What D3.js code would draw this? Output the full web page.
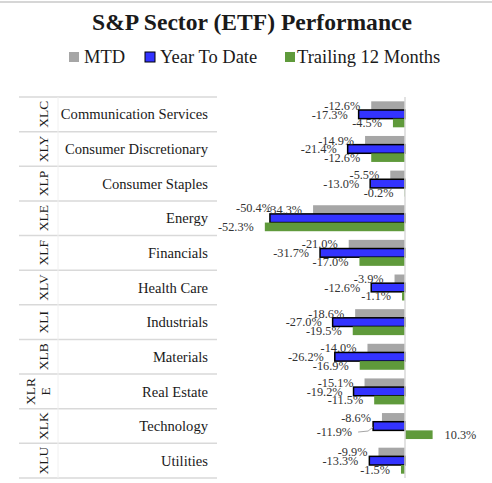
<!DOCTYPE html>
<html>
<head>
<meta charset="utf-8">
<script src="https://cdn.jsdelivr.net/npm/d3@7"></script>
<style>
  body { margin: 0; background: #fff; }
  text { font-family: "Liberation Serif", serif; }
</style>
</head>
<body>
<script>
var width = 492, height = 483;

var tickers = ["XLC", "XLY", "XLP", "XLE", "XLF", "XLV", "XLI", "XLB", "XLRE", "XLK", "XLU"];
var sectors = ["Communication Services", "Consumer Discretionary", "Consumer Staples", "Energy", "Financials",
               "Health Care", "Industrials", "Materials", "Real Estate", "Technology", "Utilities"];
var seriesNames = ["MTD", "Year To Date", "Trailing 12 Months"];
var mtd = [-12.6, -14.9, -5.5, -34.3, -21.0, -3.9, -18.6, -14.0, -15.1, -8.6, -9.9];
var ytd = [-17.3, -21.4, -13.0, -50.4, -31.7, -12.6, -27.0, -26.2, -19.2, -11.9, -13.3];
var t12 = [-4.5, -12.6, -0.2, -52.3, -17.0, -1.1, -19.5, -16.9, -11.5, 10.3, -1.5];

var colors = ["#a6a6a6", "#3333ff", "#5f9a3b"];
var seriesVals = [mtd, ytd, t12];

var rows = tickers.map(function (t, i) {
  return { ticker: t, sector: sectors[i], vals: seriesVals.map(function (s) { return s[i]; }) };
});

// plain hyphen for negatives, like the original
var fmt = d3.formatLocale({ decimal: ".", thousands: ",", grouping: [3], currency: ["$", ""], minus: "-" }).format(".1f");

var svg = d3.select("body").append("svg")
    .attr("width", width)
    .attr("height", height);

// chart border (only top edge visible)
svg.append("line")
    .attr("x1", 0).attr("x2", width).attr("y1", 2).attr("y2", 2)
    .attr("stroke", "#c8c8c8").attr("stroke-width", 1.5);

svg.append("text")
    .attr("x", 252).attr("y", 29.5)
    .attr("text-anchor", "middle")
    .style("font-size", "23.6px").style("font-weight", "bold")
    .attr("fill", "#1a1a1a")
    .text("S&P Sector (ETF) Performance");

// legend
var legendX = [69, 145, 285];
var legend = svg.selectAll(".legend")
    .data(seriesNames)
    .enter().append("g")
    .attr("class", "legend")
    .attr("transform", function (d, i) { return "translate(" + legendX[i] + ",57)"; });
legend.append("rect")
    .attr("x", 0).attr("y", -5).attr("width", 10).attr("height", 10)
    .attr("fill", function (d, i) { return colors[i]; })
    .attr("stroke", function (d, i) { return i == 1 ? "#000" : "none"; })
    .attr("stroke-width", 1);
legend.append("text")
    .attr("x", function (d, i) { return i == 2 ? 12 : 15; }).attr("y", 5.5)
    .style("font-size", "18.5px")
    .attr("fill", "#1a1a1a")
    .text(function (d) { return d; });

var xScale = d3.scaleLinear()
    .domain([-60, 20])
    .range([244.2, 458.6]);

var yScale = d3.scaleBand()
    .domain(tickers)
    .range([97, 478]);

var inner = d3.scaleBand()
    .domain([0, 1, 2])
    .range([0, yScale.bandwidth()])
    .paddingOuter(0.5);

var tableLeft = 19, tableRight = 217;

// table grid
svg.selectAll(".hline")
    .data(d3.range(tickers.length + 1))
    .enter().append("line")
    .attr("x1", tableLeft).attr("x2", tableRight)
    .attr("y1", function (i) { return 97 + i * yScale.step(); })
    .attr("y2", function (i) { return 97 + i * yScale.step(); })
    .attr("stroke", "#d9d9d9").attr("stroke-width", 1.5);

svg.append("line")
    .attr("x1", 58).attr("x2", 58).attr("y1", 97).attr("y2", 478)
    .attr("stroke", "#f0f0f0").attr("stroke-width", 1);

// ticker labels (rotated)
var tick = svg.selectAll(".ticker")
    .data(rows)
    .enter().append("text")
    .attr("class", "ticker")
    .attr("transform", function (d) {
      return "translate(43," + (yScale(d.ticker) + yScale.bandwidth() / 2) + ") rotate(-90)";
    })
    .attr("text-anchor", "middle")
    .style("font-size", "13.5px")
    .attr("fill", "#1a1a1a");
tick.each(function (d) {
  var t = d3.select(this);
  if (d.ticker.length > 3) {
    t.append("tspan").attr("x", 0).attr("dy", "-0.6em").text(d.ticker.slice(0, 3));
    t.append("tspan").attr("x", 0).attr("dy", "1.1em").text(d.ticker.slice(3));
  } else {
    t.append("tspan").attr("x", 0).attr("dy", "0.35em").text(d.ticker);
  }
});

svg.selectAll(".sector")
    .data(rows)
    .enter().append("text")
    .attr("x", 208)
    .attr("y", function (d) { return yScale(d.ticker) + yScale.bandwidth() / 2; })
    .attr("dy", "0.35em")
    .attr("text-anchor", "end")
    .style("font-size", "14.6px")
    .attr("fill", "#1a1a1a")
    .text(function (d) { return d.sector; });

// bars
var groups = svg.selectAll(".row")
    .data(rows)
    .enter().append("g")
    .attr("transform", function (d) { return "translate(0," + yScale(d.ticker) + ")"; });

groups.selectAll("rect")
    .data(function (d) { return d.vals.map(function (v, i) { return { v: v, s: i, t: d.ticker }; }); })
    .enter().append("rect")
    .attr("x", function (d) { return xScale(Math.min(0, d.v)); })
    .attr("y", function (d) { return inner(d.s); })
    .attr("width", function (d) { return Math.abs(xScale(d.v) - xScale(0)); })
    .attr("height", inner.bandwidth())
    .attr("fill", function (d) { return colors[d.s]; })
    .attr("stroke", function (d) { return d.s == 1 ? "#000" : "none"; })
    .attr("stroke-width", 1.5);

// zero line
svg.append("line")
    .attr("x1", xScale(0)).attr("x2", xScale(0)).attr("y1", 97).attr("y2", 478)
    .attr("stroke", "#d9d9d9").attr("stroke-width", 1.5);

// labels that were dragged away from their default spot in the original
var moved = { "XLE-1": [13, -11], "XLK-1": [-10, 6] };

groups.selectAll(".lbl")
    .data(function (d) { return d.vals.map(function (v, i) { return { v: v, s: i, t: d.ticker }; }); })
    .enter().append("text")
    .attr("class", "lbl")
    .attr("x", function (d) {
      var m = moved[d.t + "-" + d.s];
      return xScale(d.v) + (d.v < 0 ? -11 : 12) + (m ? m[0] : 0);
    })
    .attr("y", function (d) {
      var m = moved[d.t + "-" + d.s];
      return inner(d.s) + inner.bandwidth() / 2 + (m ? m[1] : 0);
    })
    .attr("dy", "0.35em")
    .attr("text-anchor", function (d) { return d.v < 0 ? "end" : "start"; })
    .style("font-size", "12.3px")
    .attr("fill", "#333")
    .text(function (d) { return fmt(d.v) + "%"; });

// leader line for the technology YTD label
var tk = rows[tickers.indexOf("XLK")];
svg.append("path")
    .attr("d", function () {
      var y0 = yScale("XLK") + inner(1) + inner.bandwidth() / 2;
      var x0 = xScale(tk.vals[1]);
      return "M" + (x0 - 15) + "," + (y0 + 6) + "L" + (x0 - 5) + "," + (y0 + 5) + "L" + x0 + "," + (y0 + 1);
    })
    .attr("fill", "none").attr("stroke", "#a6a6a6").attr("stroke-width", 1);
</script>
</body>
</html>
